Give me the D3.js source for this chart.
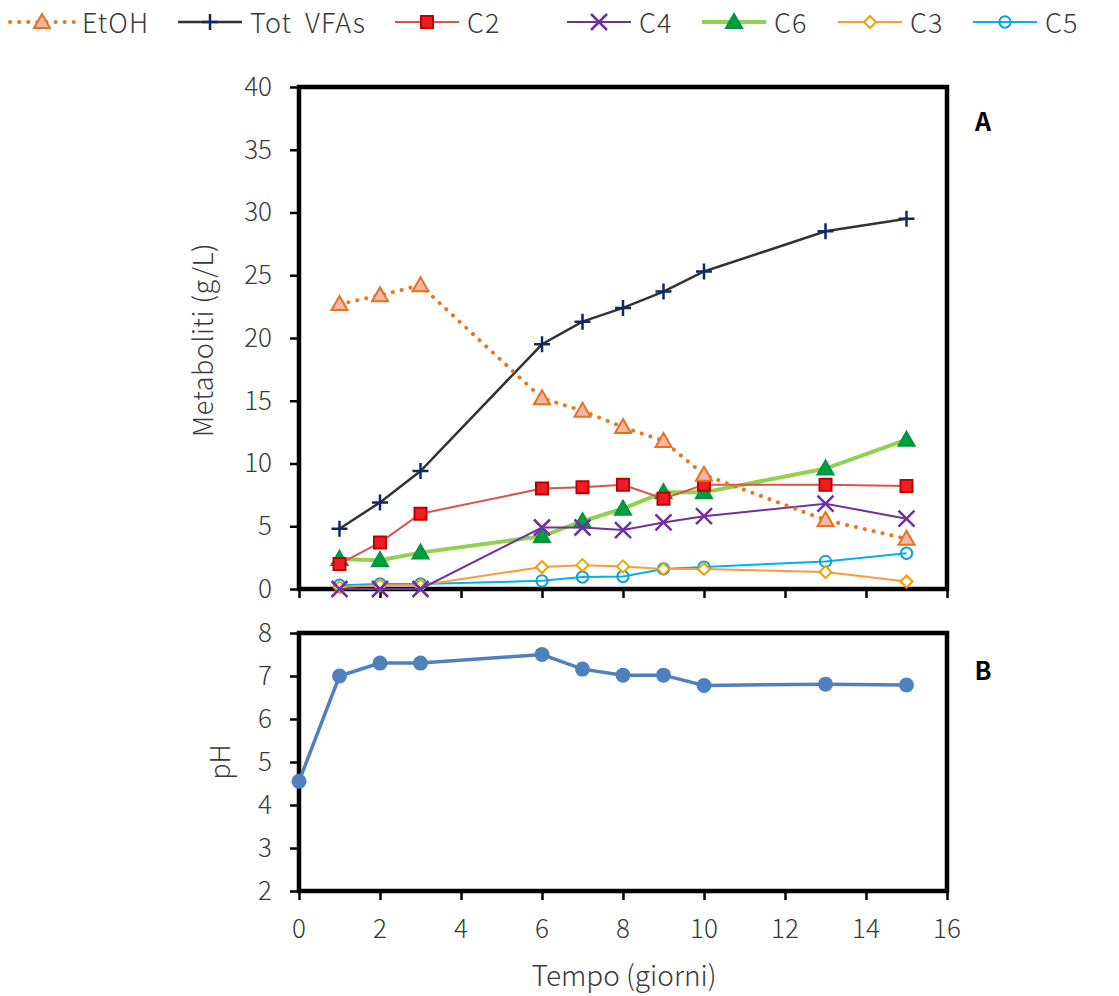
<!DOCTYPE html>
<html>
<head>
<meta charset="utf-8">
<script src="https://cdn.jsdelivr.net/npm/d3@7"></script>
<style>
  body { margin: 0; background: #fff; }
  text { font-family: "Noto Sans CJK JP", "Noto Sans", sans-serif; fill: #3a3a3a; font-weight: 300; }
</style>
</head>
<body>
<script>
var width = 1119,
    height = 996;

// data
var days = [1, 2, 3, 6, 7, 8, 9, 10, 13, 15];
var etoh = [22.7, 23.4, 24.2, 15.2, 14.2, 12.9, 11.8, 9.1, 5.5, 4.0];
var totVfa = [4.8, 6.9, 9.4, 19.5, 21.3, 22.4, 23.7, 25.3, 28.5, 29.5];
var c2 = [2.0, 3.7, 6.0, 8.0, 8.1, 8.3, 7.2, 8.3, 8.3, 8.2];
var c4 = [0, 0, 0, 4.9, 4.9, 4.7, 5.3, 5.8, 6.8, 5.6];
var c6 = [2.4, 2.3, 2.9, 4.2, 5.4, 6.4, 7.7, 7.7, 9.6, 11.9];
var c3 = [0.15, 0.3, 0.3, 1.75, 1.9, 1.8, 1.6, 1.6, 1.35, 0.6];
var c5 = [0.3, 0.4, 0.4, 0.65, 0.95, 1.0, 1.6, 1.75, 2.2, 2.85];

var phDays = [0, 1, 2, 3, 6, 7, 8, 9, 10, 13, 15];
var ph = [4.55, 7.0, 7.3, 7.3, 7.5, 7.16, 7.02, 7.02, 6.78, 6.81, 6.79];

var xTicks = [0, 2, 4, 6, 8, 10, 12, 14, 16];
var yTopTicks = [0, 5, 10, 15, 20, 25, 30, 35, 40];
var yBotTicks = [2, 3, 4, 5, 6, 7, 8];

var series = [
    {name: 'EtOH', vals: etoh, line: '#E87722', lw: 4, dash: '0.1 9', marker: 'triangle', fill: '#F4B6A6', stroke: '#E8701E'},
    {name: 'Tot VFAs', vals: totVfa, line: '#333333', lw: 2.5, dash: null, marker: 'plus', fill: 'none', stroke: '#0B2A66'},
    {name: 'C2', vals: c2, line: '#D9534F', lw: 2, dash: null, marker: 'square', fill: '#EE1C25', stroke: '#C00000'},
    {name: 'C4', vals: c4, line: '#7030A0', lw: 2, dash: null, marker: 'x', fill: 'none', stroke: '#7030A0'},
    {name: 'C6', vals: c6, line: '#92D050', lw: 4, dash: null, marker: 'triangle', fill: '#00A040', stroke: '#00953C'},
    {name: 'C3', vals: c3, line: '#FF9A3C', lw: 2, dash: null, marker: 'diamond', fill: '#fff', stroke: '#F0A000'},
    {name: 'C5', vals: c5, line: '#00B0F0', lw: 2, dash: null, marker: 'circle', fill: 'none', stroke: '#0AA0DC'}
];

var svg = d3.select('body')
    .append('svg')
    .attr('width', width)
    .attr('height', height);

var x = d3.scaleLinear().domain([0, 16]).range([299, 947]);
var yTop = d3.scaleLinear().domain([0, 40]).range([589, 87]);
var yBot = d3.scaleLinear().domain([2, 8]).range([891, 633]);

var markerPath = function(type) {
    if (type === 'triangle') return 'M0,-8L8,6L-8,6Z';
    if (type === 'square') return 'M-6,-6H6V6H-6Z';
    if (type === 'plus') return 'M-8,0H8M0,-8V8';
    if (type === 'x') return 'M-8,-8L8,8M8,-8L-8,8';
    if (type === 'diamond') return 'M0,-6L6,0L0,6L-6,0Z';
    if (type === 'circle') return d3.symbol(d3.symbolCircle, 100)();
};

var drawFrame = function(y, ticks, top, bottom) {
    // y axis
    var ya = svg.append('g')
        .attr('transform', 'translate(299,0)')
        .call(d3.axisLeft(y).tickValues(ticks).tickSize(9).tickSizeOuter(0)
            .tickPadding(18).tickFormat(d3.format('d')));
    ya.select('.domain').remove();
    ya.selectAll('line').attr('stroke', '#000').attr('stroke-width', 2.5);
    ya.selectAll('text')
        .attr('fill', null)
        .attr('font-family', null)
        .attr('font-size', null)
        .style('font-size', '26px');

    var xa = svg.append('g')
        .attr('transform', 'translate(0,' + bottom + ')')
        .call(d3.axisBottom(x).tickValues(xTicks).tickSize(9).tickSizeOuter(0).tickFormat(''));
    xa.select('.domain').remove();
    xa.selectAll('line').attr('stroke', '#000').attr('stroke-width', 2.5);

    svg.append('rect')
        .attr('x', 299).attr('y', top)
        .attr('width', 947 - 299).attr('height', bottom - top)
        .attr('fill', 'none')
        .attr('stroke', '#000')
        .attr('stroke-width', 4.5);
};

drawFrame(yTop, yTopTicks, 87, 589);
drawFrame(yBot, yBotTicks, 633, 891);

// x tick labels under bottom chart
svg.append('g').selectAll('text')
    .data(xTicks)
    .enter()
    .append('text')
    .attr('x', function(d) { return x(d); })
    .attr('y', 938)
    .attr('text-anchor', 'middle')
    .style('font-size', '26px')
    .text(function(d) { return d; });

// top chart lines
var lineTop = function(vals) {
    return d3.line()
        .x(function(d, i) { return x(days[i]); })
        .y(function(d) { return yTop(d); })(vals);
};

var drawMarkers = function(g, s, pts) {
    g.selectAll('path.mk')
        .data(pts)
        .enter()
        .append('path')
        .classed('mk', true)
        .attr('transform', function(d) { return 'translate(' + d[0] + ',' + d[1] + ')'; })
        .attr('d', markerPath(s.marker))
        .attr('fill', s.fill)
        .attr('stroke', s.stroke)
        .attr('stroke-width', (s.marker === 'plus' || s.marker === 'x') ? 2.5 : 2);
};

// draw in reverse so EtOH / Tot VFAs sit on top
series.slice().reverse().forEach(function(s) {
    var g = svg.append('g');
    g.append('path')
        .attr('d', lineTop(s.vals))
        .attr('fill', 'none')
        .attr('stroke', s.line)
        .attr('stroke-width', s.lw)
        .attr('stroke-linecap', s.dash ? 'round' : 'butt')
        .attr('stroke-dasharray', s.dash);
    drawMarkers(g, s, s.vals.map(function(v, i) { return [x(days[i]), yTop(v)]; }));
});

// pH line
svg.append('path')
    .attr('d', d3.line()
        .x(function(d, i) { return x(phDays[i]); })
        .y(function(d) { return yBot(d); })(ph))
    .attr('fill', 'none')
    .attr('stroke', '#4F81BD')
    .attr('stroke-width', 3.5);

svg.selectAll('circle.ph')
    .data(ph)
    .enter()
    .append('circle')
    .classed('ph', true)
    .attr('cx', function(d, i) { return x(phDays[i]); })
    .attr('cy', function(d) { return yBot(d); })
    .attr('r', 7.5)
    .attr('fill', '#4F81BD');

// axis titles
svg.append('text')
    .attr('transform', 'translate(213,340) rotate(-90)')
    .attr('text-anchor', 'middle')
    .style('font-size', '27px')
    .style('letter-spacing', '0.5px')
    .text('Metaboliti (g/L)');

svg.append('text')
    .attr('transform', 'translate(230,762) rotate(-90)')
    .attr('text-anchor', 'middle')
    .style('font-size', '27px')
    .text('pH');

svg.append('text')
    .attr('x', 624)
    .attr('y', 986)
    .attr('text-anchor', 'middle')
    .style('font-size', '28px')
    .text('Tempo (giorni)');

// panel letters
svg.append('text').attr('x', 983).attr('y', 131).attr('text-anchor', 'middle')
    .style('font-size', '25px').style('font-weight', 'bold').style('fill', '#000').text('A');
svg.append('text').attr('x', 983).attr('y', 680).attr('text-anchor', 'middle')
    .style('font-size', '25px').style('font-weight', 'bold').style('fill', '#000').text('B');

// legend
var legendX = [10, 178, 395, 567, 702, 838, 973];
var leg = svg.append('g');
series.forEach(function(s, i) {
    var lx = legendX[i], ly = 22;
    var g = leg.append('g');
    g.append('line')
        .attr('x1', lx).attr('x2', lx + 64)
        .attr('y1', ly).attr('y2', ly)
        .attr('stroke', s.line)
        .attr('stroke-width', s.lw)
        .attr('stroke-linecap', s.dash ? 'round' : 'butt')
        .attr('stroke-dasharray', s.dash);
    drawMarkers(g, s, [[lx + 32, ly]]);
    g.append('text')
        .attr('x', lx + 72)
        .attr('y', 33)
        .style('font-size', '27px')
        .style('letter-spacing', '1px')
        .style('word-spacing', '6px')
        .text(s.name);
});
</script>
</body>
</html>
